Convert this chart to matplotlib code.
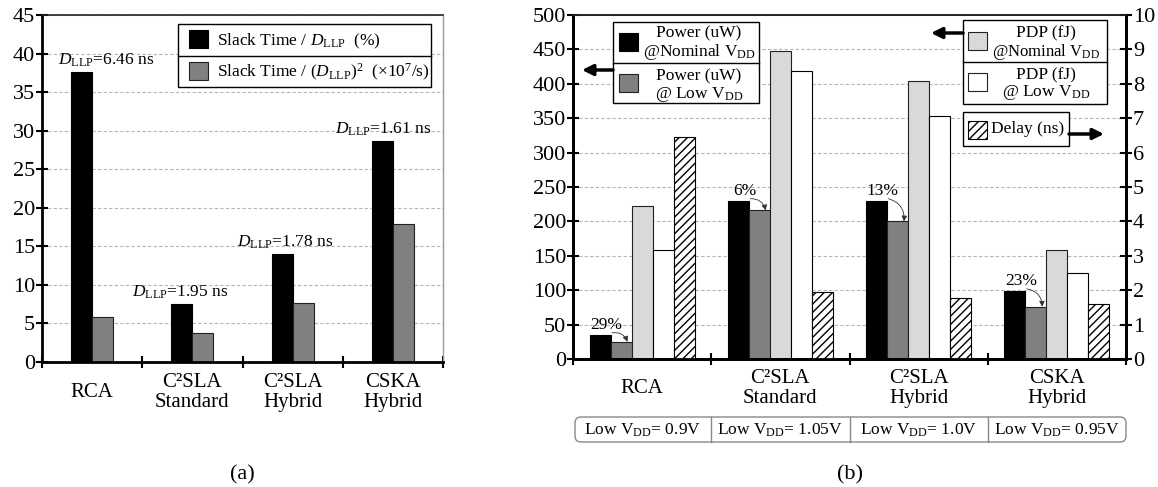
import numpy as np
import matplotlib.pyplot as plt
import matplotlib.transforms as mtransforms
from matplotlib.patches import Rectangle, FancyArrowPatch, FancyBboxPatch
from matplotlib.lines import Line2D

plt.rcParams['font.family'] = ['Liberation Serif', 'DejaVu Serif']
plt.rcParams['mathtext.fontset'] = 'custom'
plt.rcParams['mathtext.rm'] = 'Liberation Serif'
plt.rcParams['mathtext.it'] = 'Liberation Serif:italic'
plt.rcParams['mathtext.bf'] = 'Liberation Serif:bold'
plt.rcParams['hatch.linewidth'] = 1.0

# ---- data ----
cats = ['RCA', 'C\u00b2SLA\nStandard', 'C\u00b2SLA\nHybrid', 'CSKA\nHybrid']

# (a)
slack_pct = [37.6, 7.5, 14.0, 28.7]     # slack time / D_LLP (%)
slack_sq = [5.8, 3.8, 7.7, 17.9]        # slack time / D_LLP^2 (x1e7/s)
d_llp = ['6.46', '1.95', '1.78', '1.61']
d_llp_dx = [0.14, -0.12, -0.08, -0.10]

# (b)
power_nom = [35, 230, 230, 99]
power_low = [25, 216, 200, 76]
pdp_nom = [223, 447, 404, 158]
pdp_low = [158, 419, 353, 125]
delay = [6.46, 1.95, 1.78, 1.61]
savings = ['29%', '6%', '13%', '23%']
low_vdd = ['0.9V', '1.05V', '1.0V', '0.95V']

W, H = 1158, 487
fig = plt.figure(figsize=(W / 100, H / 100), dpi=100)
# pixel coords, origin top-left
pix = mtransforms.Affine2D().scale(1 / W, -1 / H).translate(0, 1) + fig.transFigure


def ax_rect(x0, y0, x1, y1):
    return [x0 / W, 1 - y1 / H, (x1 - x0) / W, (y1 - y0) / H]


x = np.arange(len(cats))
grid_kw = dict(ls=(0, (3, 2)), color='#b5b5b5', lw=0.8)

# ================= (a) =================
ax1 = fig.add_axes(ax_rect(42, 15, 443, 362))
w1 = 0.21
ax1.bar(x - w1 / 2, slack_pct, w1, color='black', edgecolor='black', lw=0.8)
ax1.bar(x + w1 / 2, slack_sq, w1, color='#808080', edgecolor='#222222', lw=0.8)
ax1.set_xlim(-0.5, 3.5)
ax1.set_ylim(0, 45)
ax1.set_yticks(np.arange(0, 46, 5))
ax1.yaxis.grid(True, **grid_kw)
ax1.set_axisbelow(True)
ax1.set_xticks(x, cats)
ax1.set_xticks(np.arange(-0.5, 4, 1), minor=True)
ax1.tick_params(axis='x', which='major', length=0, pad=22, labelsize=15)
ax1.tick_params(axis='x', which='minor', direction='inout', length=8, width=1.5)
ax1.tick_params(axis='y', direction='inout', length=8, width=1.5, labelsize=16, pad=1)
for lbl in ax1.get_xticklabels():
    lbl.set_va('center')
    lbl.set_linespacing(1.05)
for s in ['left', 'bottom']:
    ax1.spines[s].set_linewidth(2)
ax1.spines['top'].set_linewidth(1.2)
ax1.spines['top'].set_color('#222222')
ax1.spines['right'].set_linewidth(1)
ax1.spines['right'].set_color('#999999')

for i in range(len(cats)):
    ax1.text(x[i] + d_llp_dx[i], slack_pct[i] + 1.5,
             r'$\mathit{D}_{\mathrm{LLP}}$=' + d_llp[i] + ' ns',
             ha='center', va='center', fontsize=12.5)

# legend (a)
fig.add_artist(Rectangle((178, 24), 253, 63, transform=pix, fc='white',
                         ec='black', lw=1, zorder=5))
fig.add_artist(Line2D([178, 431], [56, 56], transform=pix, color='black', lw=1, zorder=6))
fig.add_artist(Rectangle((189, 30), 19, 18, transform=pix, fc='black', ec='black',
                         lw=0.8, zorder=6))
fig.add_artist(Rectangle((189, 62), 19, 18, transform=pix, fc='#808080', ec='#222222',
                         lw=0.8, zorder=6))
fig.text(217 / W, 1 - 41 / H, r'Slack Time / $\mathit{D}_{\mathrm{LLP}}$  (%)',
         ha='left', va='center', fontsize=12.5, zorder=7)
fig.text(217 / W, 1 - 72 / H,
         r'Slack Time / ($\mathit{D}_{\mathrm{LLP}}$)$^{2}$  (×10$^{7}$/s)',
         ha='left', va='center', fontsize=12.5, zorder=7)

fig.text(242 / W, 1 - 475 / H, '(a)', ha='center', va='center', fontsize=16)

# ================= (b) =================
ax2 = fig.add_axes(ax_rect(573, 15, 1126, 359))
w2 = 0.152
ax2.bar(x - 2 * w2, power_nom, w2, color='black', edgecolor='black', lw=0.8)
ax2.bar(x - w2, power_low, w2, color='#808080', edgecolor='#222222', lw=0.8)
ax2.bar(x, pdp_nom, w2, color='#d9d9d9', edgecolor='#222222', lw=0.8)
ax2.bar(x + w2, pdp_low, w2, color='white', edgecolor='black', lw=0.8)
ax2.set_xlim(-0.5, 3.5)
ax2.set_ylim(0, 500)
ax2.set_yticks(np.arange(0, 501, 50))
ax2.yaxis.grid(True, **grid_kw)
ax2.set_axisbelow(True)
ax2.set_xticks(x, cats)
ax2.set_xticks(np.arange(-0.5, 4, 1), minor=True)
ax2.tick_params(axis='x', which='major', length=0, pad=21, labelsize=15)
ax2.tick_params(axis='x', which='minor', direction='inout', length=8, width=1.5)
ax2.tick_params(axis='y', direction='inout', length=8, width=1.5, labelsize=16, pad=1)
for lbl in ax2.get_xticklabels():
    lbl.set_va('center')
    lbl.set_linespacing(1.05)

ax3 = ax2.twinx()
ax3.bar(x + 2 * w2, delay, w2, color='white', edgecolor='black', lw=0.8, hatch='////')
ax3.set_ylim(0, 10)
ax3.set_yticks(np.arange(0, 11, 1))
ax3.tick_params(axis='y', direction='inout', length=8, width=1.5, labelsize=16, pad=1)
for a in (ax2, ax3):
    for s in ['left', 'right', 'bottom']:
        a.spines[s].set_linewidth(2)
    a.spines['top'].set_linewidth(1.2)
    a.spines['top'].set_color('#222222')

for i in range(len(cats)):
    ax2.text(x[i] - 2 * w2 + 0.045, power_nom[i] + 14, savings[i],
             ha='center', va='center', fontsize=12.5)
    ax2.annotate('', xy=(x[i] - w2 + 0.3 * w2, power_low[i]),
                 xytext=(x[i] - 1.5 * w2 + 0.01, power_nom[i] + 3),
                 arrowprops=dict(arrowstyle='-|>', connectionstyle='arc3,rad=-0.4',
                                 color='#333333', lw=0.6, mutation_scale=8,
                                 shrinkA=0, shrinkB=0))

# legends (b)
def legend_box(x0, y0, x1, y1, ydiv=None):
    fig.add_artist(Rectangle((x0, y0), x1 - x0, y1 - y0, transform=pix, fc='white',
                             ec='black', lw=1, zorder=5))
    if ydiv is not None:
        fig.add_artist(Line2D([x0, x1], [ydiv, ydiv], transform=pix, color='black',
                              lw=1, zorder=6))


def swatch(x0, y0, fc, ec='#222222', hatch=None):
    fig.add_artist(Rectangle((x0, y0), 19, 18, transform=pix, fc=fc, ec=ec, lw=0.8,
                             hatch=hatch, zorder=6))


def ptext(xp, yp, s, ha='center', size=12.5):
    fig.text(xp / W, 1 - yp / H, s, ha=ha, va='center', fontsize=size, zorder=7)


def arrow(x0, x1, y):
    fig.add_artist(FancyArrowPatch((x0, y), (x1, y), transform=pix, arrowstyle='-|>',
                                   mutation_scale=16, lw=2.5, color='black',
                                   shrinkA=0, shrinkB=0, zorder=6))


vdd = r'V$_{\mathrm{DD}}$'
legend_box(613, 22, 759, 103, 63)
swatch(619, 33, 'black', 'black')
swatch(619, 74, '#808080')
ptext(699, 33, 'Power (uW)')
ptext(699, 52, '@Nominal ' + vdd)
ptext(699, 76, 'Power (uW)')
ptext(699, 94, '@ Low ' + vdd)
arrow(613, 582, 70)

legend_box(963, 20, 1107, 104, 62)
swatch(968, 32, '#d9d9d9')
swatch(968, 73, 'white')
ptext(1046, 33, 'PDP (fJ)')
ptext(1046, 52, '@Nominal ' + vdd, size=12)
ptext(1046, 75, 'PDP (fJ)')
ptext(1046, 93, '@ Low ' + vdd)
arrow(963, 931, 33)

legend_box(963, 112, 1069, 146)
swatch(968, 121, 'white', 'black', hatch='////')
ptext(991, 129, 'Delay (ns)', ha='left')
arrow(1069, 1104, 134)

# Low VDD table under the categories
fig.add_artist(FancyBboxPatch((575, 417), 551, 25, transform=pix,
                              boxstyle='round,pad=0,rounding_size=6',
                              fc='none', ec='#888888', lw=1))
tbl = mtransforms.blended_transform_factory(ax2.transData, pix)
for b in np.arange(0.5, 3, 1):
    fig.add_artist(Line2D([b, b], [417, 442], transform=tbl, color='#888888', lw=1))
for i, v in enumerate(low_vdd):
    fig.text(x[i], 430, 'Low ' + vdd + '= ' + v, transform=tbl,
             ha='center', va='center', fontsize=12.5)

fig.text(850 / W, 1 - 475 / H, '(b)', ha='center', va='center', fontsize=16)

fig.savefig('out.png', dpi=100)
